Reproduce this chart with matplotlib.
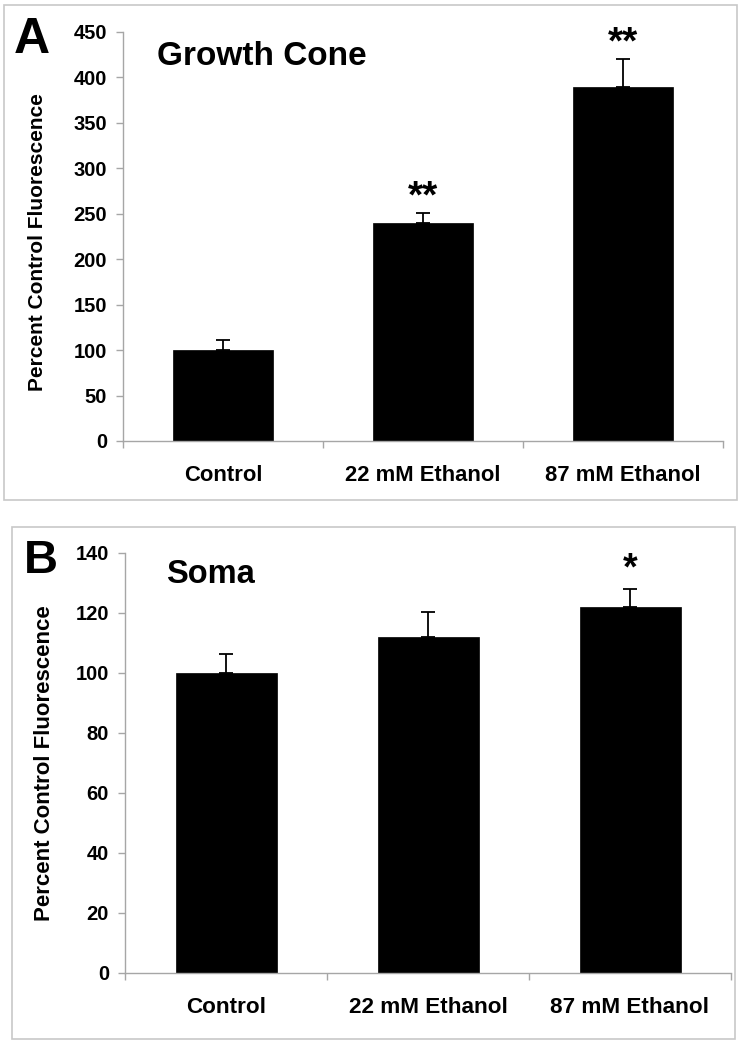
import numpy as np
import matplotlib.pyplot as plt
from matplotlib.patches import Rectangle

plt.rcParams['font.family'] = ['Liberation Sans', 'DejaVu Sans']
plt.rcParams['font.weight'] = 'bold'

groups = ["Control", "22 mM Ethanol", "87 mM Ethanol"]

# panel A - growth cone
cone_vals = [100, 240, 390]
cone_err = [11, 11, 30]
cone_stars = ["", "**", "**"]

# panel B - soma
soma_vals = [100, 112, 122]
soma_err = [6.5, 8.5, 6]
soma_stars = ["", "", "*"]

W, H = 744, 1050
grid_col = "#a6a6a6"
box_col = "#c8c8c8"

fig = plt.figure(figsize=(W / 100, H / 100), dpi=100)


def px_axes(l, t, r, b):
    return fig.add_axes([l / W, 1 - b / H, (r - l) / W, (b - t) / H])


def px_box(l, t, r, b):
    fig.patches.append(Rectangle((l / W, 1 - b / H), (r - l) / W, (b - t) / H,
                                 transform=fig.transFigure, fill=False,
                                 edgecolor=box_col, linewidth=1.2))


def panel(ax, vals, err, stars, ymax, ystep, star_size, star_off, lab_off, lab_size):
    x = np.arange(len(groups))
    ax.bar(x, vals, width=0.5, color="black", edgecolor="black", linewidth=0.5, zorder=2)
    ax.errorbar(x, vals, yerr=[np.zeros(len(err)), err], fmt="none", ecolor="black",
                elinewidth=1.3, capsize=4.8, capthick=1.3, zorder=1)
    for xi, v, e, s in zip(x, vals, err, stars):
        if s:
            ax.annotate(s, xy=(xi, v + e), xytext=(0, star_off), textcoords="offset points",
                        ha="center", va="baseline", fontsize=star_size, fontweight="bold")
    ax.set_xlim(-0.5, len(groups) - 0.5)
    ax.set_ylim(0, ymax)
    ax.set_yticks(np.arange(0, ymax + 1, ystep))
    ax.set_xticks(np.arange(-0.5, len(groups), 1.0))
    ax.set_xticklabels([])
    for xi, g in zip(x, groups):
        ax.annotate(g, xy=(xi, 0), xycoords=("data", "axes fraction"),
                    xytext=(0, -lab_off), textcoords="offset points",
                    ha="center", va="baseline", fontsize=lab_size, fontweight="bold")
    for s in ["top", "right"]:
        ax.spines[s].set_visible(False)
    for s in ["left", "bottom"]:
        ax.spines[s].set_color(grid_col)
        ax.spines[s].set_linewidth(1.0)
    ax.tick_params(axis="both", colors=grid_col, length=5, width=1.0, direction="out")
    ax.tick_params(axis="y", labelcolor="black", labelsize=14.5, pad=6.5)
    for t in ax.get_yticklabels():
        t.set_fontweight("bold")


# panel A
px_box(4, 5, 737, 500)
axA = px_axes(123, 32, 723, 441)
panel(axA, cone_vals, cone_err, cone_stars, 450, 50, 28, 4.2, 28.5, 15.8)
fig.text(14 / W, 1 - 53 / H, "A", fontsize=36, fontweight="bold", va="baseline")
fig.text(157 / W, 1 - 65 / H, "Growth Cone", fontsize=24, fontweight="bold", va="baseline")
fig.text(38 / W, 1 - 242 / H, "Percent Control Fluorescence", rotation=90,
         fontsize=15, fontweight="bold", ha="center", va="center")

# panel B
px_box(12, 527, 735, 1039)
axB = px_axes(125, 553, 731, 973)
panel(axB, soma_vals, soma_err, soma_stars, 140, 20, 27, 7.2, 29, 16.2)
fig.text(24 / W, 1 - 573 / H, "B", fontsize=34, fontweight="bold", va="baseline")
fig.text(166 / W, 1 - 583 / H, "Soma", fontsize=23.5, fontweight="bold", va="baseline")
fig.text(45 / W, 1 - 763 / H, "Percent Control Fluorescence", rotation=90,
         fontsize=16, fontweight="bold", ha="center", va="center")

fig.savefig("out.png", dpi=100)
